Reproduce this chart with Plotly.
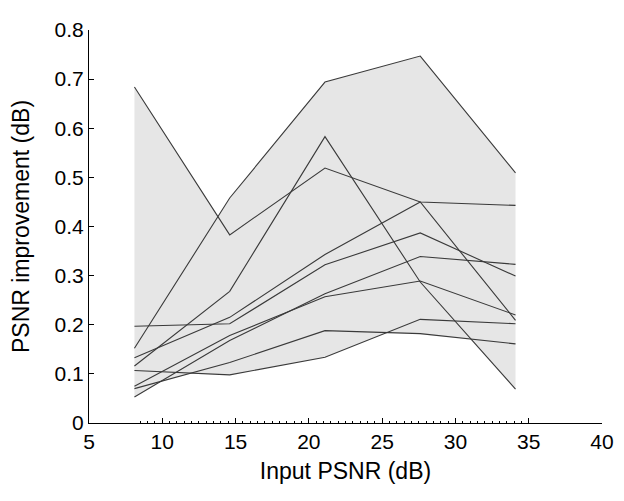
import numpy as np
import plotly.graph_objects as go

input_psnr = [8.1, 14.6, 21.1, 27.6, 34.1]
series = {
    "s1": [0.684, 0.383, 0.519, 0.450, 0.443],
    "s2": [0.152, 0.458, 0.694, 0.747, 0.509],
    "s3": [0.116, 0.268, 0.583, 0.287, 0.069],
    "s4": [0.133, 0.215, 0.343, 0.450, 0.209],
    "s5": [0.197, 0.202, 0.322, 0.387, 0.299],
    "s6": [0.075, 0.178, 0.257, 0.289, 0.220],
    "s7": [0.053, 0.168, 0.263, 0.339, 0.323],
    "s8": [0.070, 0.123, 0.188, 0.182, 0.161],
    "s9": [0.107, 0.098, 0.134, 0.211, 0.202],
}
x_ticks = [5, 10, 15, 20, 25, 30, 35, 40]
y_ticks = [0, 0.1, 0.2, 0.3, 0.4, 0.5, 0.6, 0.7, 0.8]
y_labels = ["0", "0.1", "0.2", "0.3", "0.4", "0.5", "0.6", "0.7", "0.8"]

# pointwise envelope of all series
xd = np.linspace(input_psnr[0], input_psnr[-1], 2000)
curves = np.array([np.interp(xd, input_psnr, v) for v in series.values()])
upper = curves.max(axis=0)
lower = curves.min(axis=0)

fig = go.Figure()
fig.add_trace(go.Scatter(
    x=np.concatenate([xd, xd[::-1]]),
    y=np.concatenate([upper, lower[::-1]]),
    fill="toself", fillcolor="#e6e6e6", line=dict(width=0),
    mode="lines", hoverinfo="skip", showlegend=False,
))
for name, vals in series.items():
    fig.add_trace(go.Scatter(
        x=input_psnr, y=vals, mode="lines", name=name,
        line=dict(color="#3a3a3a", width=1.1), showlegend=False,
    ))

minor_vals = [v for v in np.arange(8.5, 34.51, 0.5) if v % 5 != 0]

font = "Liberation Sans, Arial, Helvetica, sans-serif"
fig.update_layout(
    width=616, height=493,
    margin=dict(l=81, r=22, t=10, b=78),
    plot_bgcolor="white", paper_bgcolor="white",
    font=dict(family=font, size=21, color="black"),
    xaxis=dict(
        range=[5, 40], tickvals=x_ticks, ticks="inside", ticklen=5,
        tickcolor="black", showline=True, linecolor="black", linewidth=1,
        showgrid=False, zeroline=False, mirror=False,
        ticklabeloverflow="allow",
        title=dict(text="Input PSNR (dB)", font=dict(size=23), standoff=10),
        minor=dict(tickvals=minor_vals, ticks="inside", ticklen=2.5,
                   tickcolor="black", showgrid=False),
    ),
    yaxis=dict(
        range=[0, 0.8], tickvals=y_ticks, ticktext=y_labels, ticks="inside",
        ticklen=5, tickcolor="black", showline=True, linecolor="black",
        linewidth=1, showgrid=False, zeroline=False,
        ticklabeloverflow="allow",
        title=dict(text="PSNR improvement (dB)", font=dict(size=23), standoff=19),
    ),
)
fig.write_html("out.html")
